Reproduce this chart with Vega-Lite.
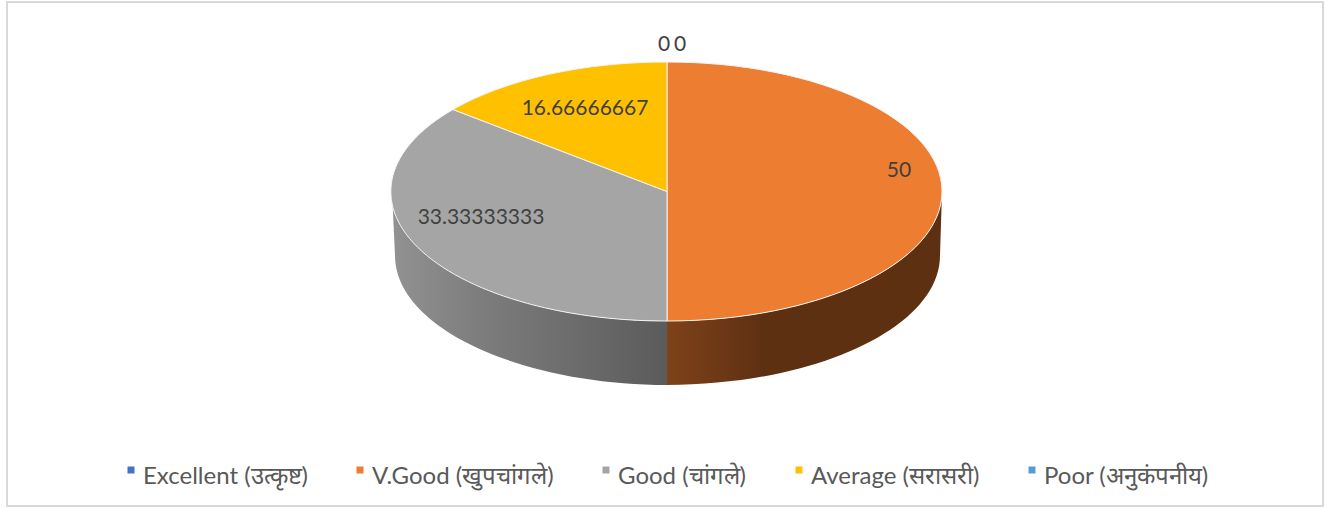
{"$schema":"https://vega.github.io/schema/vega-lite/v6.json","width":1316,"height":504,"padding":{"left":7,"top":2,"right":15,"bottom":2},"autosize":"none","background":"white",
"data":{"values":[{"slice":"Excellent (उत्कृष्ट)","value":0},{"slice":"V.Good (खुपचांगले)","value":50},{"slice":"Good (चांगले)","value":33.33333333},{"slice":"Average (सरासरी)","value":16.66666667},{"slice":"Poor (अनुकंपनीय)","value":0}]},
"view":{"stroke":"#d9d9d9","strokeWidth":2,"fill":"white"},
"config":{"text":{"font":"Lato","fontSize":21,"fill":"#404040","align":"center","baseline":"middle"}},
"layer":[
{"mark":{"type":"point","filled":true,"opacity":0,"size":0},
"encoding":{"color":{"field":"slice","type":"nominal","sort":null,"scale":{"domain":["Excellent (उत्कृष्ट)","V.Good (खुपचांगले)","Good (चांगले)","Average (सरासरी)","Poor (अनुकंपनीय)"],"range":["#4472c4","#ed7d31","#a5a5a5","#ffc000","#5b9bd5"]},
"legend":{"title":null,"orient":"none","legendX":112,"legendY":463,"direction":"horizontal","columns":5,"columnPadding":40,"labelFont":"Lato","labelFontSize":24,"labelColor":"#595959","labelLimit":400,"labelOffset":0,"symbolSize":49,"symbolStrokeWidth":0,"symbolOpacity":1,"symbolType":"M-1,-3 H1 V-1 H-1 Z"}}}},
{"transform":[{"filter":"datum.value==50"}],"mark":{"type":"point","filled":true,"opacity":1,"size":4,"fill":{"gradient":"linear","x1":0,"x2":1,"y1":0,"y2":0,"stops":[{"offset":0,"color":"#7f4219"},{"offset":0.35,"color":"#5e3012"},{"offset":1,"color":"#5e3012"}]},"strokeWidth":0,"shape":"M277,-62.5 A275,129.5 0 0 1 2,67 L2,131 A275,129.5 0 0 0 275,1.5 Z"}},
{"transform":[{"filter":"datum.value>33 && datum.value<34"}],"mark":{"type":"point","filled":true,"opacity":1,"size":4,"fill":{"gradient":"linear","x1":0,"x2":1,"y1":0,"y2":0,"stops":[{"offset":0,"color":"#929292"},{"offset":0.3,"color":"#7e7e7e"},{"offset":1,"color":"#5b5b5b"}]},"strokeWidth":0,"shape":"M2,67 A275,129.5 0 0 1 -273,-62.5 L-270,1.5 A275,129.5 0 0 0 2,131 Z"}},
{"transform":[{"filter":"datum.value==50"}],"mark":{"type":"point","filled":true,"opacity":1,"size":4,"stroke":"#f4f4f4","strokeWidth":1,"shape":"M2,-62.5 L2,-192 A275,129.5 0 0 1 2,67 Z"},"encoding":{"color":{"field":"slice","type":"nominal","legend":null}}},
{"transform":[{"filter":"datum.value>33 && datum.value<34"}],"mark":{"type":"point","filled":true,"opacity":1,"size":4,"stroke":"#f4f4f4","strokeWidth":1,"shape":"M2,-62.5 L2,67 A275,129.5 0 0 1 -212,-144.5 Z"},"encoding":{"color":{"field":"slice","type":"nominal","legend":null}}},
{"transform":[{"filter":"datum.value>16 && datum.value<17"}],"mark":{"type":"point","filled":true,"opacity":1,"size":4,"stroke":"#f4f4f4","strokeWidth":1,"shape":"M2,-62.5 L-212,-144.5 A275,129.5 0 0 1 2,-192 Z"},"encoding":{"color":{"field":"slice","type":"nominal","legend":null}}},
{"transform":[{"filter":"datum.value==50"}],"mark":{"type":"text","dx":234,"dy":-83},"encoding":{"text":{"field":"value","type":"quantitative"}}},
{"transform":[{"filter":"datum.value>33 && datum.value<34"}],"mark":{"type":"text","dx":-184,"dy":-36},"encoding":{"text":{"field":"value","type":"quantitative"}}},
{"transform":[{"filter":"datum.value>16 && datum.value<17"}],"mark":{"type":"text","dx":-80,"dy":-145},"encoding":{"text":{"field":"value","type":"quantitative"}}},
{"transform":[{"filter":"datum.slice=='Excellent (उत्कृष्ट)'"}],"mark":{"type":"text","dx":-1,"dy":-209},"encoding":{"text":{"field":"value","type":"quantitative"}}},
{"transform":[{"filter":"datum.slice=='Poor (अनुकंपनीय)'"}],"mark":{"type":"text","dx":15,"dy":-209},"encoding":{"text":{"field":"value","type":"quantitative"}}}
]}
